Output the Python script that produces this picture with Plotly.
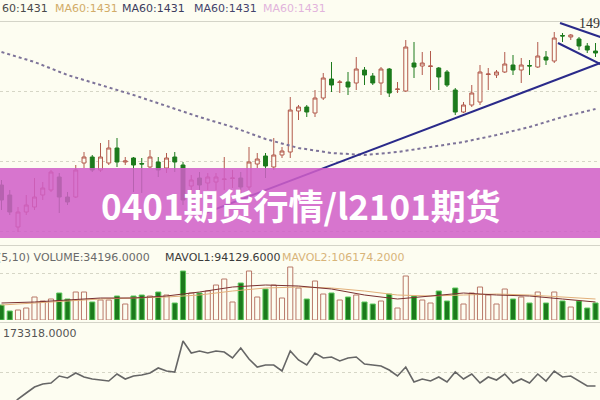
import plotly.graph_objects as go

# ---------------- data ----------------
idx = list(range(73))
opens = [1338, 1328, 1296, 1311, 1316, 1328, 1333, 1346, 1326, 1326,
         1360, 1366, 1353, 1360, 1375, 1361, 1365, 1359.5, 1356, 1361,
         1355, 1366, 1358, 1337, 1345, 1340, 1341, 1343.5, 1344.5, 1345,
         1336, 1359, 1367, 1356, 1368, 1371, 1412, 1416, 1410, 1425,
         1444, 1440.5, 1441, 1440, 1453, 1447, 1440, 1454, 1433.5, 1432,
         1460, 1457, 1456.5, 1455, 1451, 1433, 1411, 1418, 1421, 1448.5,
         1448, 1451, 1458, 1453, 1457.5, 1456, 1466, 1462, 1487.5, 1486,
         1484, 1477, 1472]
highs = [1343, 1333, 1316, 1328, 1345, 1341, 1353, 1350, 1331, 1358,
         1371, 1368, 1380, 1383, 1385, 1366, 1366, 1365, 1373, 1366,
         1370, 1371, 1361, 1348, 1351, 1350, 1350, 1366, 1353, 1351,
         1376, 1370, 1370, 1385, 1376, 1426, 1418, 1418, 1433, 1450,
         1461, 1443, 1451, 1466, 1456, 1450, 1456, 1455, 1441, 1483,
         1481, 1471, 1472, 1456, 1453, 1435, 1421, 1438, 1458, 1455,
         1453, 1471, 1468, 1465, 1463, 1481, 1472, 1491, 1490, 1489,
         1486, 1480, 1480]
lows = [1313, 1308, 1291, 1308, 1313, 1323, 1331, 1310, 1318, 1325,
        1355, 1351, 1351, 1358, 1356, 1358, 1331, 1330, 1355, 1346,
        1350, 1351, 1318, 1328, 1333, 1333, 1333, 1333, 1335, 1328,
        1333, 1355, 1345, 1353, 1365, 1365, 1403, 1406, 1406, 1423,
        1431, 1430, 1428, 1433, 1438, 1438, 1428, 1426, 1430, 1431,
        1445, 1448, 1433, 1433, 1436, 1408, 1410, 1416, 1418, 1433,
        1445, 1450, 1448, 1440, 1448, 1455, 1458, 1460, 1481, 1483,
        1473, 1470, 1466]
closes = [1323, 1311, 1311, 1318, 1326, 1335, 1351, 1326, 1321, 1353,
          1366, 1353, 1366, 1375, 1361, 1362, 1358, 1359, 1366, 1353,
          1365, 1361, 1323, 1343, 1338, 1346, 1346, 1344, 1345, 1336,
          1361, 1364, 1357, 1368, 1372, 1413, 1416, 1411, 1425, 1445,
          1438, 1441, 1436, 1454, 1448, 1440, 1454, 1430, 1434, 1476,
          1456, 1460, 1457, 1446, 1438, 1411, 1418, 1430, 1451, 1449,
          1451, 1459, 1453, 1458, 1457, 1467, 1463, 1485, 1487, 1488,
          1477, 1473, 1470]

volumes = [45000, 27000, 30000, 36000, 69000, 57000, 63000, 81000, 63000, 84000,
           84000, 54000, 60000, 60000, 72000, 48000, 72000, 75000, 72000, 84000,
           75000, 51000, 147000, 81000, 81000, 87000, 105000, 123000, 54000, 111000,
           147000, 69000, 93000, 105000, 66000, 159000, 96000, 63000, 117000, 78000,
           81000, 60000, 69000, 75000, 54000, 48000, 57000, 78000, 36000, 132000,
           72000, 60000, 51000, 87000, 57000, 96000, 48000, 81000, 99000, 75000,
           48000, 93000, 63000, 69000, 51000, 84000, 51000, 84000, 57000, 39000,
           57000, 36000, 51000]

ma_idx = list(range(0, 73, 4))
ma60 = [1471, 1461, 1448, 1438, 1428, 1417, 1406, 1396, 1384, 1375,
        1370, 1368, 1371, 1376, 1381, 1388, 1396, 1406, 1414]
mavol1 = [51000, 54000, 60000, 66000, 66000, 72000, 84000, 99000, 105000, 102000,
          93000, 75000, 63000, 72000, 81000, 75000, 72000, 63000, 54000]
mavol2 = [45000, 51000, 57000, 63000, 66000, 69000, 75000, 87000, 96000, 99000,
          96000, 87000, 75000, 72000, 75000, 78000, 75000, 69000, 63000]

oi_idx = list(range(1, 73))
oi = [158918, 162518, 164918, 167318, 168518, 168918, 171718, 170918, 172918, 171318,
      170518, 170118, 169718, 172518, 170518, 171718, 172118, 172918, 174918, 173718,
      173318, 185718, 180918, 181718, 180918, 181718, 181318, 178918, 182918, 178518,
      175318, 176118, 176118, 173718, 181718, 178118, 176118, 180918, 178918, 179318,
      177718, 178918, 179318, 176518, 176118, 175718, 174118, 171718, 175318, 169318,
      170518, 169718, 171318, 169318, 173318, 170518, 172518, 168918, 171318, 170118,
      172518, 168918, 170518, 168918, 172518, 169718, 173718, 171318, 171718, 169718,
      167718, 167718]

trend_up_x = [24.7, 72.6]
trend_up_y = [1310, 1460]
wedge_top_x = [67.7, 72.6]
wedge_top_y = [1500, 1486]
wedge_bot_x = [67.45, 72.6]
wedge_bot_y = [1480, 1459]

top_labels = ["60:1431", "MA60:1431", "MA60:1431", "MA60:1431", "MA60:1431"]
vol_labels = ["(5,10) VOLUME:34196.0000", "MAVOL1:94129.6000", "MAVOL2:106174.2000"]
oi_label = "173318.0000"
high_label = "1490"
banner_text = "0401期货行情/l2101期货"

# ---------------- styles ----------------
BG = "#fdfdf1"
UP = "#b25a4c"
DOWN = "#1c7a1c"

fig = go.Figure()

fig.add_trace(go.Candlestick(
    x=idx, open=opens, high=highs, low=lows, close=closes,
    increasing=dict(line=dict(color=UP, width=1), fillcolor=BG),
    decreasing=dict(line=dict(color=DOWN, width=1), fillcolor=DOWN),
    whiskerwidth=0, xaxis="x", yaxis="y", showlegend=False, hoverinfo="skip"))

fig.add_trace(go.Scatter(x=ma_idx, y=ma60, mode="lines",
                         line=dict(color="#7d7399", width=2, dash="dot"),
                         xaxis="x", yaxis="y", showlegend=False))

for tx, ty in [(trend_up_x, trend_up_y), (wedge_top_x, wedge_top_y), (wedge_bot_x, wedge_bot_y)]:
    fig.add_trace(go.Scatter(x=tx, y=ty, mode="lines",
                             line=dict(color="#2a2a8a", width=2),
                             xaxis="x", yaxis="y", showlegend=False))

up_x = [i for i in idx if closes[i] >= opens[i]]
dn_x = [i for i in idx if closes[i] < opens[i]]
fig.add_trace(go.Bar(x=up_x, y=[volumes[i] for i in up_x], width=0.62,
                     marker=dict(color=BG, line=dict(color="#b87868", width=1)),
                     xaxis="x", yaxis="y2", showlegend=False))
fig.add_trace(go.Bar(x=dn_x, y=[volumes[i] for i in dn_x], width=0.62,
                     marker=dict(color=DOWN, line=dict(color="#5cc85c", width=1)),
                     xaxis="x", yaxis="y2", showlegend=False))
fig.add_trace(go.Scatter(x=ma_idx, y=mavol2, mode="lines",
                         line=dict(color="#e2b07a", width=1), xaxis="x", yaxis="y2", showlegend=False))
fig.add_trace(go.Scatter(x=ma_idx, y=mavol1, mode="lines",
                         line=dict(color="#7a3030", width=1), xaxis="x", yaxis="y2", showlegend=False))

fig.add_trace(go.Scatter(x=oi_idx, y=oi, mode="lines",
                         line=dict(color="#666666", width=1.6), xaxis="x", yaxis="y3", showlegend=False))

def px(v):
    return v / 600.0

def py(v):
    return 1 - v / 400.0

ann = []
top_x = [0, 53, 120, 192, 261]
top_c = ["#4a4a4a", "#d2ac68", "#3c3c5e", "#44446c", "#e2b4dc"]
for t, x0, c in zip(top_labels, top_x, top_c):
    ann.append(dict(text=t, x=px(x0), y=py(8), xref="paper", yref="paper",
                    xanchor="left", yanchor="middle", showarrow=False,
                    font=dict(family="DejaVu Sans", size=11, color=c)))
vol_x = [-5, 163, 280]
vol_c = ["#6a6a6a", "#3a3a3a", "#d8b47a"]
for t, x0, c in zip(vol_labels, vol_x, vol_c):
    ann.append(dict(text=t, x=px(x0), y=py(257), xref="paper", yref="paper",
                    xanchor="left", yanchor="middle", showarrow=False,
                    font=dict(family="DejaVu Sans", size=11, color=c)))
ann.append(dict(text=oi_label, x=px(1), y=py(333), xref="paper", yref="paper",
                xanchor="left", yanchor="middle", showarrow=False,
                font=dict(family="DejaVu Sans", size=11, color="#555555")))
ann.append(dict(text=high_label, x=px(577), y=py(23), xref="paper", yref="paper",
                xanchor="left", yanchor="middle", showarrow=False,
                font=dict(family="Liberation Serif", size=14, color="#333333")))
ann.append(dict(text="<b>" + banner_text + "</b>", x=px(301), y=py(204), xref="paper", yref="paper",
                xanchor="center", yanchor="middle", showarrow=False,
                font=dict(family="Noto Sans CJK SC", size=35, color="#ffffff")))

shapes = []
for yy in [21.5, 245.5, 322.5]:
    shapes.append(dict(type="line", xref="paper", yref="paper", x0=0, x1=1, y0=py(yy), y1=py(yy),
                       line=dict(color="#d4d4c8", width=1), layer="below"))
shapes.append(dict(type="rect", xref="paper", yref="paper", x0=0, x1=1, y0=py(238), y1=py(168),
                   fillcolor="rgba(208, 94, 200, 0.86)", line=dict(width=0), layer="above"))

grid = dict(showticklabels=False, zeroline=False, showgrid=True,
            gridcolor="#d6d6c6", griddash="dot", gridwidth=1, ticks="")

fig.update_layout(
    width=600, height=400, margin=dict(l=0, r=0, t=0, b=0),
    paper_bgcolor=BG, plot_bgcolor=BG, showlegend=False,
    barmode="overlay", boxgap=0.32,
    xaxis=dict(range=[-0.182, 72.545], visible=False, rangeslider=dict(visible=False), fixedrange=True),
    yaxis=dict(domain=[0.3875, 0.945], range=[1278, 1501], tickvals=[1292, 1362, 1432], **grid),
    yaxis2=dict(domain=[0.2, 0.345], range=[0, 174000], tickvals=[141000], **grid),
    yaxis3=dict(domain=[0.0, 0.1875], range=[162118, 192118], tickvals=[173318], **grid),
    annotations=ann, shapes=shapes,
)

fig.write_html("out.html")
